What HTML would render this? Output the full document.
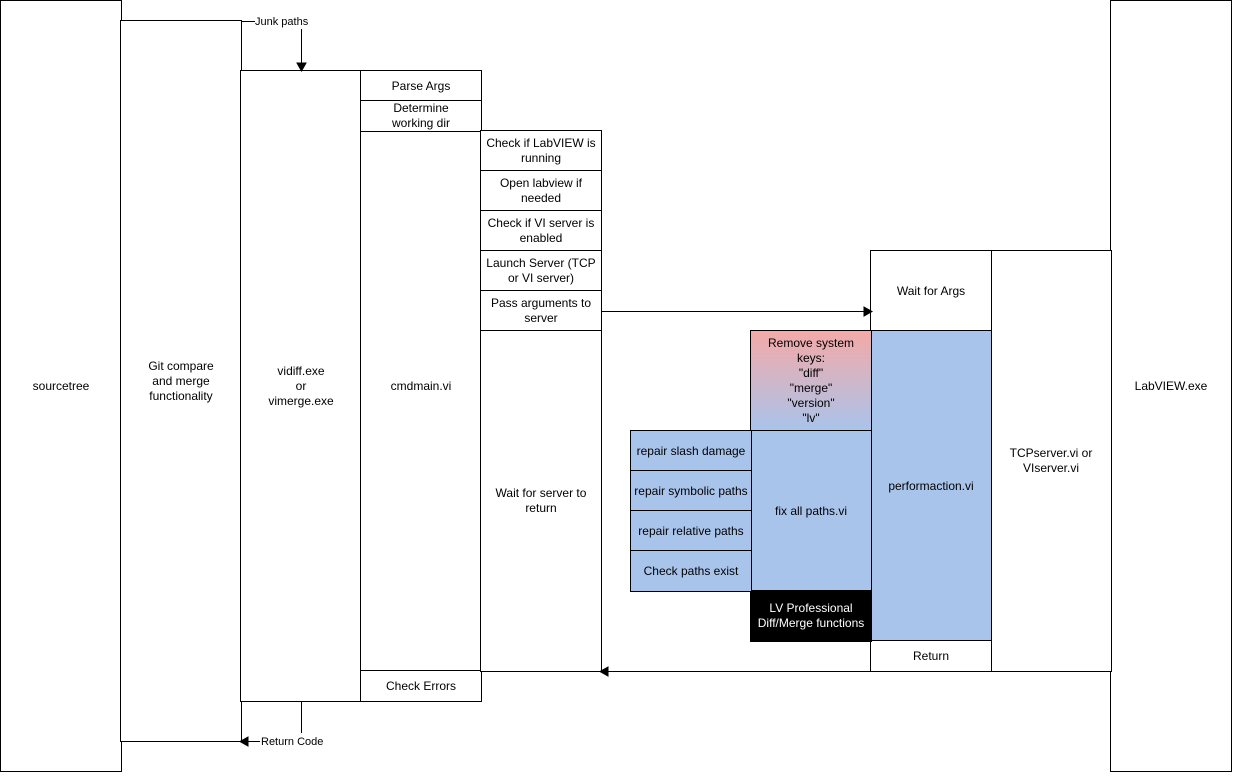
<!DOCTYPE html>
<html><head><style>
body{margin:0;background:#fff;width:1233px;height:776px;position:relative;overflow:hidden;font-family:"Liberation Sans",Arial,sans-serif;font-size:12px;color:#000}
.b{position:absolute;box-sizing:border-box;border:1px solid #000;display:flex;align-items:center;justify-content:center;text-align:center;line-height:15px;background:#fff}
.bl{background:#a9c4eb}
</style></head><body>
<div class="b" style="left:0;top:0;width:122px;height:772px">sourcetree</div>
<div class="b" style="left:1110px;top:0;width:122px;height:772px">LabVIEW.exe</div>
<div class="b" style="left:120px;top:20px;width:122px;height:722px">Git compare<br>and merge<br>functionality</div>
<div class="b" style="left:240px;top:70px;width:122px;height:632px">vidiff.exe<br>or<br>vimerge.exe</div>
<div class="b" style="left:360px;top:70px;width:122px;height:632px">cmdmain.vi</div>
<div class="b" style="left:360px;top:70px;width:122px;height:32px">Parse Args</div>
<div class="b" style="left:360px;top:100px;width:122px;height:32px">Determine<br>working dir</div>
<div class="b" style="left:360px;top:670px;width:122px;height:32px">Check Errors</div>
<div class="b" style="left:480px;top:130px;width:122px;height:42px">Check if LabVIEW is<br>running</div>
<div class="b" style="left:480px;top:170px;width:122px;height:42px">Open labview if<br>needed</div>
<div class="b" style="left:480px;top:210px;width:122px;height:42px">Check if VI server is<br>enabled</div>
<div class="b" style="left:480px;top:250px;width:122px;height:42px">Launch Server (TCP<br>or VI server)</div>
<div class="b" style="left:480px;top:290px;width:122px;height:42px">Pass arguments to<br>server</div>
<div class="b" style="left:480px;top:330px;width:122px;height:342px">Wait for server to<br>return</div>
<div class="b" style="left:990px;top:250px;width:122px;height:422px">TCPserver.vi or<br>VIserver.vi</div>
<div class="b" style="left:870px;top:250px;width:122px;height:82px">Wait for Args</div>
<div class="b bl" style="left:870px;top:330px;width:122px;height:312px">performaction.vi</div>
<div class="b" style="left:870px;top:640px;width:122px;height:32px">Return</div>
<div class="b" style="left:750px;top:330px;width:122px;height:102px;background:linear-gradient(#f4a9a8,#a9c4eb)">Remove system<br>keys:<br>"diff"<br>"merge"<br>"version"<br>"lv"</div>
<div class="b bl" style="left:750px;top:430px;width:122px;height:162px">fix all paths.vi</div>
<div class="b" style="left:750px;top:590px;width:122px;height:52px;background:#000;color:#fff">LV Professional<br>Diff/Merge functions</div>
<div class="b bl" style="left:630px;top:430px;width:122px;height:42px">repair slash damage</div>
<div class="b bl" style="left:630px;top:470px;width:122px;height:42px">repair symbolic paths</div>
<div class="b bl" style="left:630px;top:510px;width:122px;height:42px">repair relative paths</div>
<div class="b bl" style="left:630px;top:550px;width:122px;height:42px">Check paths exist</div>
<svg width="1233" height="776" style="position:absolute;left:0;top:0" fill="none" stroke="#000">
<path d="M241.5 21.5H255M301.5 29V64M601 311.5H864M1111 671.5H608M301.5 701V733M260 741.5H248"/>
<path d="M297 63L301.5 71L306 63Z M864 307L872 311.5L864 316Z M608 667L600 671.5L608 676Z M248 737L240 741.5L248 746Z" fill="#000"/>
<text x="255" y="25" fill="#000" stroke="none" font-size="11" font-family="Liberation Sans,Arial,sans-serif">Junk paths</text>
<text x="261" y="745" fill="#000" stroke="none" font-size="11" font-family="Liberation Sans,Arial,sans-serif">Return Code</text>
</svg>
</body></html>
